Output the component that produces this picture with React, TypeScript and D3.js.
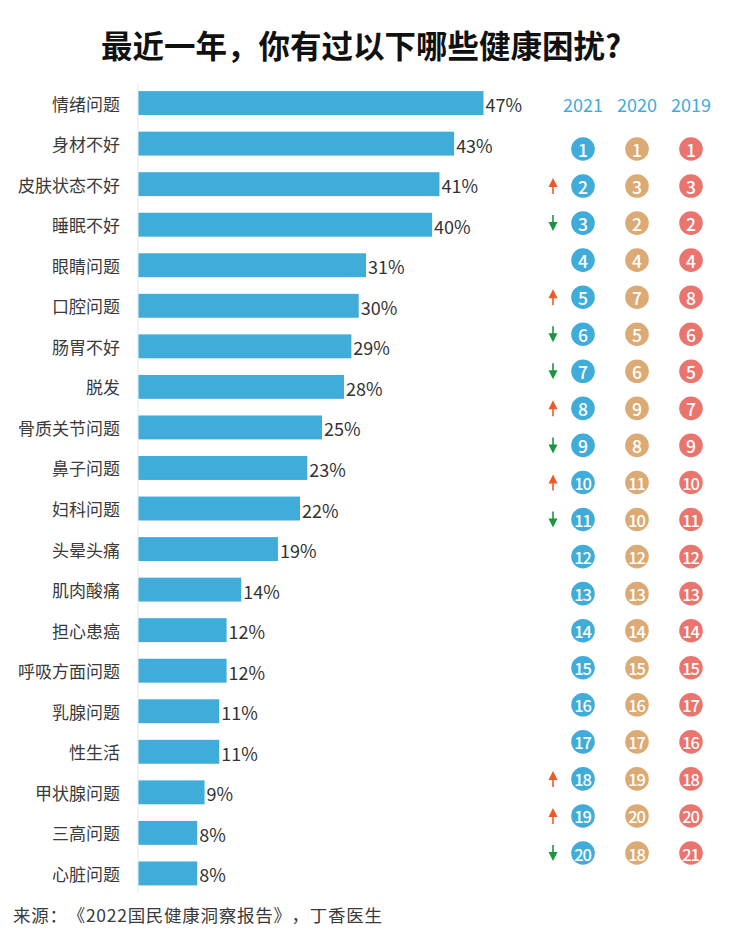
import React from "react";
import * as d3 from "d3";

const categories = [
  "情绪问题", "身材不好", "皮肤状态不好", "睡眠不好", "眼睛问题",
  "口腔问题", "肠胃不好", "脱发", "骨质关节问题", "鼻子问题",
  "妇科问题", "头晕头痛", "肌肉酸痛", "担心患癌", "呼吸方面问题",
  "乳腺问题", "性生活", "甲状腺问题", "三高问题", "心脏问题",
];
const values = [47, 43, 41, 40, 31, 30, 29, 28, 25, 23, 22, 19, 14, 12, 12, 11, 11, 9, 8, 8];
const rank2021 = [1, 2, 3, 4, 5, 6, 7, 8, 9, 10, 11, 12, 13, 14, 15, 16, 17, 18, 19, 20];
const rank2020 = [1, 3, 2, 4, 7, 5, 6, 9, 8, 11, 10, 12, 13, 14, 15, 16, 17, 19, 20, 18];
const rank2019 = [1, 3, 2, 4, 8, 6, 5, 7, 9, 10, 11, 12, 13, 14, 15, 17, 16, 18, 20, 21];
const years = ["2021", "2020", "2019"];

const title = "最近一年，你有过以下哪些健康困扰?";
const source = "来源：《2022国民健康洞察报告》，丁香医生";

const W = 730;
const H = 931;
const FONT = "'Noto Sans CJK SC', 'Noto Sans', sans-serif";
const BLUE = "#40acd9";
const TAN = "#dcaa74";
const RED = "#ea756e";
const UP = "#f05a22";
const DOWN = "#1a9641";

export default function App() {
  const x = d3.scaleLinear().domain([0, 47]).range([138.5, 483.5]);
  const y = d3
    .scaleBand<string>()
    .domain(categories)
    .range([83, 893.5])
    .paddingInner(0.41)
    .paddingOuter(0.2);
  const bw = y.bandwidth();
  const colX = d3.scalePoint<string>().domain(years).range([583, 691]);
  const rowY = d3
    .scalePoint<number>()
    .domain(rank2021)
    .range([149, 853]);
  const colColors = [BLUE, TAN, RED];
  const ranks = [rank2021, rank2020, rank2019];
  const arrowX = 553;
  const trim: any = { textSpacingTrim: "space-all", fontKerning: "none" };

  return (
    <svg
      width={W}
      height={H}
      style={{ position: "absolute", left: 0, top: 0, background: "#fff" }}
      fontFamily={FONT}
    >
      <rect width={W} height={H} fill="#fff" />
      <text
        x={361}
        y={44}
        textAnchor="middle"
        dominantBaseline="central"
        fontSize={31.5}
        fontWeight={700}
        fill="#111"
        style={trim}
      >
        {title}
      </text>

      <line x1={138} x2={138} y1={83} y2={893} stroke="#e6e6e6" strokeWidth={1} />

      {categories.map((c, i) => {
        const cy = (y(c) as number) + bw / 2;
        return (
          <g key={c}>
            <text
              x={120}
              y={cy}
              textAnchor="end"
              dominantBaseline="central"
              fontSize={17}
              fill="#3a3a3a"
            >
              {c}
            </text>
            <rect x={x(0)} y={y(c)} width={x(values[i]) - x(0)} height={bw} fill={BLUE} />
            <text
              x={x(values[i]) + 2}
              y={cy + 1}
              dominantBaseline="central"
              fontSize={18}
              fill="#333"
            >
              {values[i]}%
            </text>
          </g>
        );
      })}

      {years.map((yr) => (
        <text
          key={yr}
          x={colX(yr)}
          y={104}
          textAnchor="middle"
          dominantBaseline="central"
          fontSize={18}
          fill={BLUE}
        >
          {yr}
        </text>
      ))}

      {rank2021.map((r, i) => {
        const cy = rowY(r) as number;
        const diff = rank2020[i] - rank2021[i];
        return (
          <g key={"r" + r}>
            {years.map((yr, j) => {
              const two = ranks[j][i] >= 10;
              return (
                <g key={yr}>
                  <circle cx={colX(yr)} cy={cy} r={11.8} fill={colColors[j]} />
                  <text
                    x={(colX(yr) as number) + (two ? -0.6 : 0)}
                    y={cy + 0.5}
                    textAnchor="middle"
                    dominantBaseline="central"
                    fontSize={two ? 16.5 : 17.5}
                    fontWeight={500}
                    letterSpacing={two ? -1.2 : 0}
                    fill="#fff"
                  >
                    {ranks[j][i]}
                  </text>
                </g>
              );
            })}
            {diff > 0 && (
              <g fill={UP} stroke={UP}>
                <line x1={arrowX} x2={arrowX} y1={cy - 2} y2={cy + 8} strokeWidth={1.6} />
                <path d={`M${arrowX - 4.5},${cy + 1} L${arrowX},${cy - 8} L${arrowX + 4.5},${cy + 1} Z`} stroke="none" />
              </g>
            )}
            {diff < 0 && (
              <g fill={DOWN} stroke={DOWN}>
                <line x1={arrowX} x2={arrowX} y1={cy - 8} y2={cy + 2} strokeWidth={1.6} />
                <path d={`M${arrowX - 4.5},${cy - 1} L${arrowX},${cy + 8} L${arrowX + 4.5},${cy - 1} Z`} stroke="none" />
              </g>
            )}
          </g>
        );
      })}

      <text
        x={13}
        y={914}
        dominantBaseline="central"
        fontSize={17.5}
        fill="#3a3a3a"
        textLength={369}
        lengthAdjust="spacing"
        style={trim}
      >
        {source}
      </text>
    </svg>
  );
}
